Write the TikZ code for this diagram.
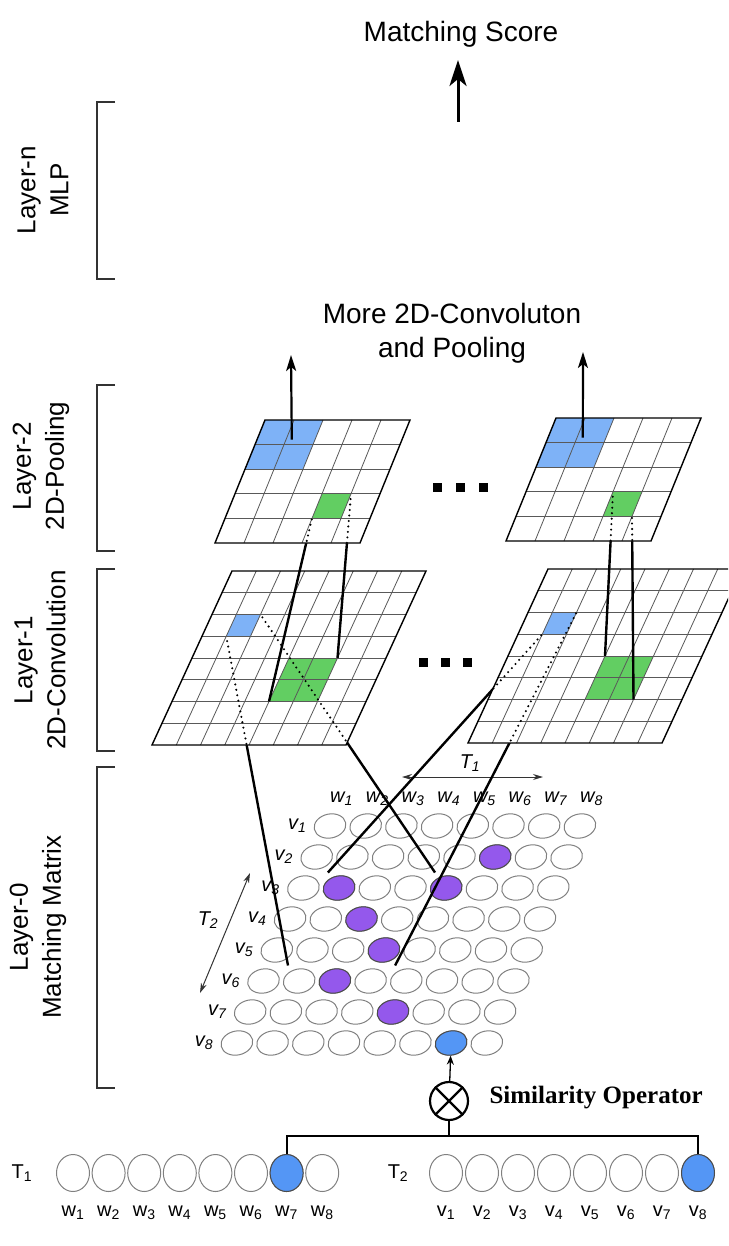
\documentclass[tikz,border=0pt]{standalone}
\usepackage{fontspec}
\setmainfont{Liberation Sans}
\newfontfamily\opfont{Liberation Serif}
\usetikzlibrary{arrows.meta,shapes.geometric}

\definecolor{cellblue}{RGB}{126,178,247}
\definecolor{cellgreen}{RGB}{98,206,98}
\definecolor{hitpurple}{RGB}{148,88,236}
\definecolor{hitblue}{RGB}{84,150,245}

\begin{document}
\begin{tikzpicture}[x=1pt,y=-1pt,
    big/.style={font=\fontsize{28}{34}\selectfont,align=center},
    side/.style={font=\fontsize{26}{33}\selectfont,rotate=90,align=center},
    idx/.style={font=\fontsize{20}{22}\selectfont\itshape,inner sep=0pt},
    tok/.style={font=\fontsize{20}{22}\selectfont,inner sep=0pt},
    brace/.style={line width=1.5pt,draw=black!80},
    cell/.style={ellipse,draw=black!50,line width=1pt,minimum width=32pt,minimum height=24pt,inner sep=0pt,rotate=12},
    tokc/.style={ellipse,draw=black!50,line width=1pt,minimum width=33pt,minimum height=37pt,inner sep=0pt},
    gridln/.style={draw=black!65,line width=0.8pt},
    gridbd/.style={draw=black,line width=1.4pt},
    link/.style={line width=2.4pt},
    hidden/.style={line width=2.3pt,dash pattern=on 0pt off 5.5pt,line cap=round},
    bigarrow/.style={line width=3pt,-{Stealth[length=26pt,width=17pt,inset=7pt]}},
    uparrow/.style={line width=2.2pt,-{Stealth[length=16pt,width=10pt,inset=4pt]}},
    dimarrow/.style={line width=1pt,draw=black!80,{Stealth[length=10pt,width=6pt]}-{Stealth[length=10pt,width=6pt]}},
    dot/.style={fill=black,minimum size=9pt,inner sep=0pt},
    conv/.style={x={(24.25pt,0pt)},y={(10pt,21.75pt)}},
    pool/.style={x={(29pt,0pt)},y={(10pt,24.6pt)}},
    mat/.style={x={(35.7pt,0pt)},y={(-13.3pt,-31pt)}}]

\clip (0,0) rectangle (728,1246);
\useasboundingbox (0,0) rectangle (728,1246);

% layer brackets and names
\draw[brace] (115,102) -- (97,102) -- (97,279) -- (115,279);
\draw[brace] (115,385) -- (97,385) -- (97,551) -- (115,551);
\draw[brace] (115,569) -- (97,569) -- (97,751) -- (115,751);
\draw[brace] (115,767) -- (97,767) -- (97,1088) -- (115,1088);
\node[side] (labn) at (43,190) {Layer-n\\MLP};
\node[side] (lab2) at (41,466) {Layer-2\\2D-Pooling};
\node[side] (lab1) at (40,660) {Layer-1\\2D-Convolution};
\node[side] (lab0) at (38,927) {Layer-0\\Matching Matrix};

\node[big] (score) at (461,34) {Matching Score};
\node[big] (more) at (452,333) {More 2D-Convoluton\\and Pooling};

% matching matrix
\begin{scope}[shift={(330,826)},mat]
\foreach \r in {1,...,8}
    \foreach \c in {1,...,8}
        \node[cell] (m-\r-\c) at (\c-1,\r-1) {};
\foreach \r/\c in {2/6,3/2,3/5,4/3,5/4,6/3,7/5}
    \node[cell,fill=hitpurple,draw=black!70] at (m-\r-\c) {};
\node[cell,fill=hitblue,draw=black!70] at (m-8-7) {};
\foreach \i in {1,...,8} {
    \node[idx] (wl-\i) at (\i-1,-0.87) {w\textsubscript{\i}};
    \node[idx] (vl-\i) at (-0.92,\i-1) {v\textsubscript{\i}};
}
\coordinate (rfTL) at (0.5,1.5);
\coordinate (rfTR) at (3.5,1.5);
\coordinate (rfBL) at (0.5,4.5);
\coordinate (rfBR) at (3.5,4.5);
\end{scope}

\coordinate (t1s) at (402,777);
\coordinate (t1e) at (543,777);
\coordinate (t2s) at (200,993);
\coordinate (t2e) at (250,873);
\draw[dimarrow] (t1s) -- (t1e);
\draw[dimarrow] (t2s) -- (t2e);
\node[idx] (t1lab) at (470,763) {T\textsubscript{1}};
\node[idx] (t2lab) at (208,920) {T\textsubscript{2}};

% corners of the feature maps
\foreach \gx/\gy/\s in {152/745/a,468/743/b} {
    \begin{scope}[shift={(\gx,\gy)},conv]
    \coordinate (conv\s-bbl) at (1,5);
    \coordinate (conv\s-btr) at (2,6);
    \coordinate (conv\s-gbl) at (4,2);
    \coordinate (conv\s-gtr) at (6,4);
    \coordinate (conv\s-gtl) at (4,4);
    \coordinate (conv\s-gbr) at (6,2);
    \end{scope}
}
\foreach \gx/\gy/\s in {215/543/a,506/541/b} {
    \begin{scope}[shift={(\gx,\gy)},pool]
    \coordinate (pool\s-gbl) at (3,1);
    \coordinate (pool\s-gtr) at (4,2);
    \coordinate (pool\s-gtl) at (3,2);
    \coordinate (pool\s-gbr) at (4,1);
    \coordinate (pool\s-out) at (1.2,4.2);
    \end{scope}
}

\draw[link] (rfBL) -- (conva-bbl);
\draw[link] (rfTR) -- (conva-btr);
\draw[link] (rfTL) -- (convb-bbl);
\draw[link] (rfBR) -- (convb-btr);

% layer-1
\foreach \gx/\gy/\s/\p/\q in {152/745/a/rfBL/rfTR,468/743/b/rfTL/rfBR} {
    \begin{scope}[shift={(\gx,\gy)},conv]
    \fill[white] (0,0) -- (8,0) -- (8,8) -- (0,8) -- cycle;
    \fill[cellblue] (1,5) -- (2,5) -- (2,6) -- (1,6) -- cycle;
    \fill[cellgreen] (4,2) -- (6,2) -- (6,4) -- (4,4) -- cycle;
    \foreach \i in {1,...,7} {
        \draw[gridln] (\i,0) -- (\i,8);
        \draw[gridln] (0,\i) -- (8,\i);
    }
    \draw[gridbd] (0,0) -- (8,0) -- (8,8) -- (0,8) -- cycle;
    \clip (0,0) -- (8,0) -- (8,8) -- (0,8) -- cycle;
    \draw[hidden] (\p) -- (conv\s-bbl);
    \draw[hidden] (\q) -- (conv\s-btr);
    \end{scope}
}

\draw[link] (conva-gbl) -- (poola-gbl);
\draw[link] (conva-gtr) -- (poola-gtr);
\draw[link] (convb-gtl) -- (poolb-gtl);
\draw[link] (convb-gbr) -- (poolb-gbr);

% layer-2
\foreach \gx/\gy/\s/\p/\q in {215/543/a/gbl/gtr,506/541/b/gtl/gbr} {
    \begin{scope}[shift={(\gx,\gy)},pool]
    \fill[white] (0,0) -- (5,0) -- (5,5) -- (0,5) -- cycle;
    \fill[cellblue] (0,3) -- (2,3) -- (2,5) -- (0,5) -- cycle;
    \fill[cellgreen] (3,1) -- (4,1) -- (4,2) -- (3,2) -- cycle;
    \foreach \i in {1,...,4} {
        \draw[gridln] (\i,0) -- (\i,5);
        \draw[gridln] (0,\i) -- (5,\i);
    }
    \draw[gridbd] (0,0) -- (5,0) -- (5,5) -- (0,5) -- cycle;
    \clip (0,0) -- (5,0) -- (5,5) -- (0,5) -- cycle;
    \draw[hidden] (conv\s-\p) -- (pool\s-\p);
    \draw[hidden] (conv\s-\q) -- (pool\s-\q);
    \end{scope}
}

\foreach \x in {437,460,483}
    \node[dot] (pd\x) at (\x,487) {};
\foreach \x in {423,445,467}
    \node[dot] (cd\x) at (\x,662) {};

\coordinate (tipa) at (291,355);
\coordinate (tipb) at (583,352);
\draw[uparrow] (poola-out) -- (tipa);
\draw[uparrow] (poolb-out) -- (tipb);

\coordinate (mlp) at (458,122);
\coordinate (scoretip) at (458,60);
\draw[bigarrow] (mlp) -- (scoretip);

% input texts
\node[tok] (t1) at (22,1173) {T\textsubscript{1}};
\node[tok] (t2) at (398,1173) {T\textsubscript{2}};
\foreach \i in {1,...,8} {
    \node[tokc] (w-\i) at ({73+35.6*(\i-1)},1173) {};
    \node[tok] (wt-\i) at ({73+35.6*(\i-1)},1213) {w\textsubscript{\i}};
    \node[tokc] (v-\i) at ({446+36*(\i-1)},1173) {};
    \node[tok] (vt-\i) at ({446+36*(\i-1)},1213) {v\textsubscript{\i}};
}
\node[tokc,fill=hitblue,draw=black!70] at (w-7) {};
\node[tokc,fill=hitblue,draw=black!70] at (v-8) {};

% similarity operator
\node[circle,draw,line width=2.2pt,minimum size=38pt,inner sep=0pt] (op) at (449,1101) {};
\draw[line width=2.2pt] (op.north east) -- (op.south west) (op.north west) -- (op.south east);
\node[anchor=west,font=\opfont\bfseries\fontsize{25}{28}\selectfont] (optext) at (486,1098) {Similarity Operator};
\coordinate (join) at (449,1136);
\draw[line width=2pt] (w-7.north) |- (join) -| (v-8.north);
\draw[line width=2pt] (op) -- (join);
\draw[line width=1.3pt,-{Stealth[length=9pt,width=7pt]}] (op) -- (m-8-7);

\end{tikzpicture}
\end{document}
